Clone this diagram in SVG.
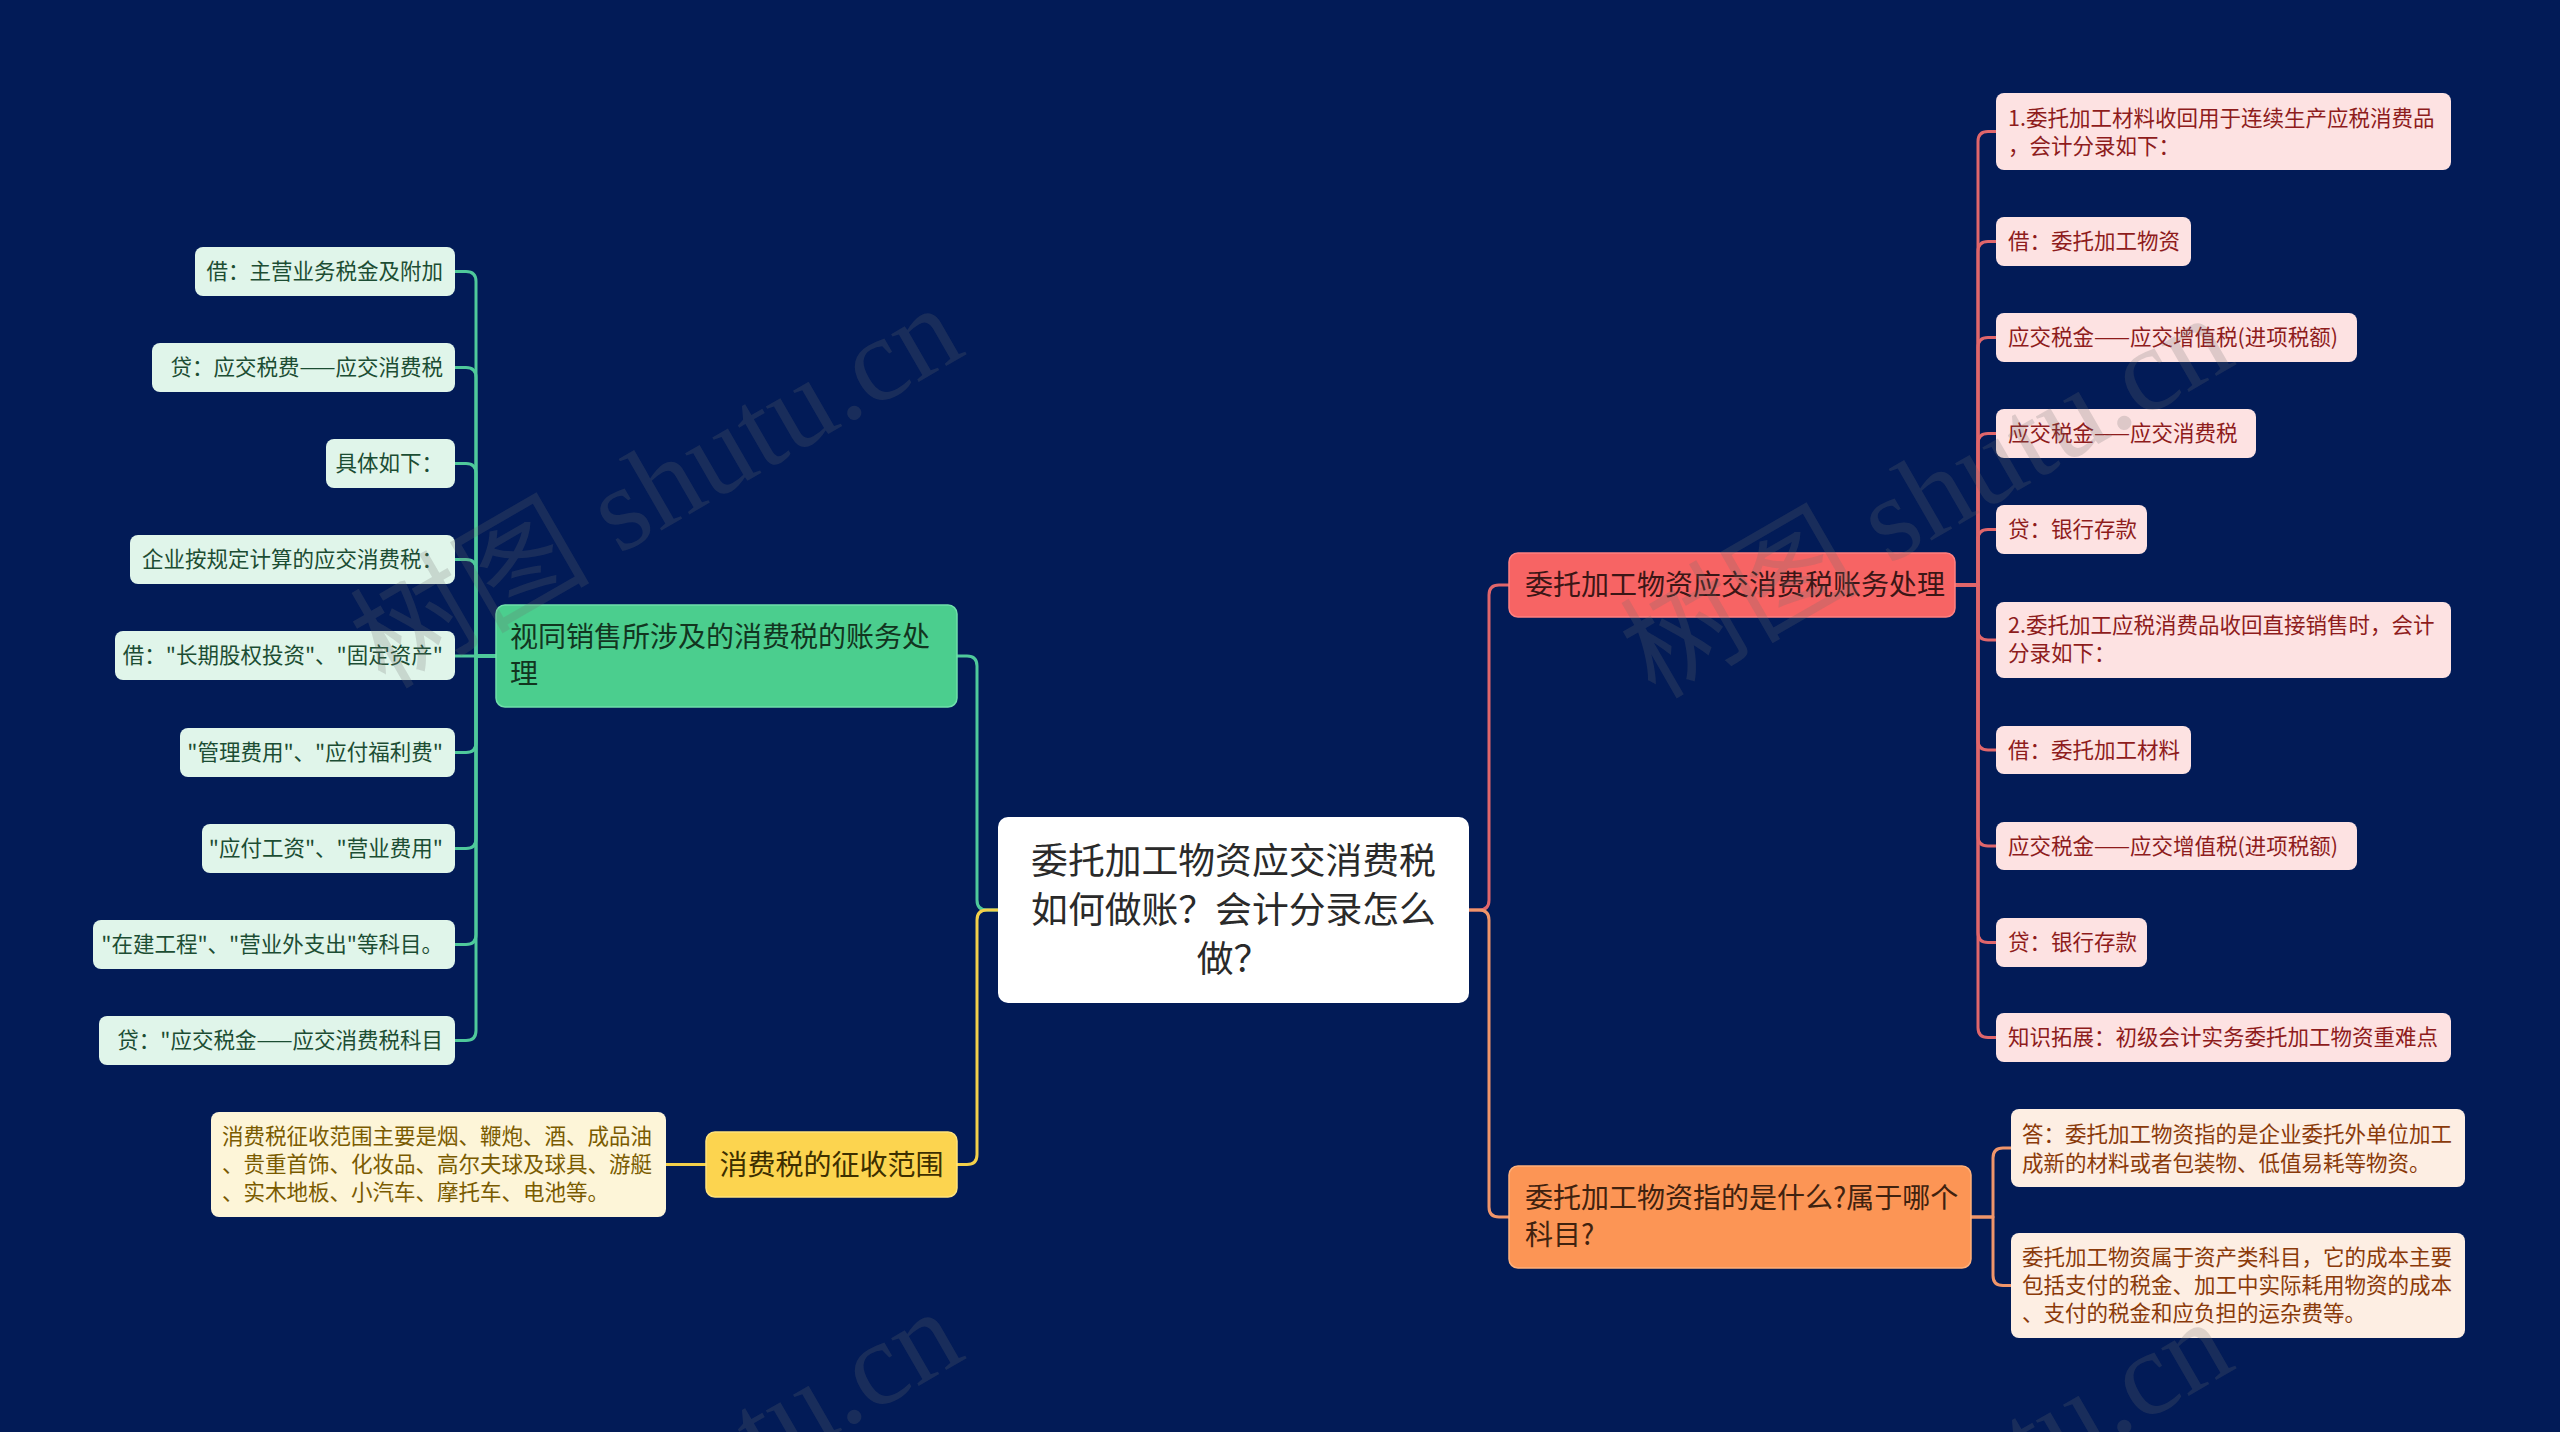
<svg xmlns="http://www.w3.org/2000/svg" width="2560" height="1432" viewBox="0 0 2560 1432">
<defs>
<style>
text{font-family:"Noto Sans CJK SC","Noto Sans",sans-serif;}
.c{fill:none;stroke-width:3;stroke-linecap:round;stroke-linejoin:round;}
.cg{stroke:#4fc99b;} .cy{stroke:#f3d04a;} .cr{stroke:#e0666b;} .co{stroke:#f0956a;}
.gl{fill:#e0f5ea;} .glt{fill:#1c4d33;font-size:21.5px;}
.rl{fill:#fde2e2;} .rlt{fill:#8e1c1c;font-size:21.5px;}
.yl{fill:#fdf5d8;} .ylt{fill:#7a5b00;font-size:21.5px;}
.ol{fill:#fdeee3;} .olt{fill:#8a3a0a;font-size:21.5px;}
.wm{font-family:"Liberation Serif","Noto Sans CJK SC",serif;font-size:120px;fill:#6e6e6e;fill-opacity:0.22;}
</style>
</defs>
<rect width="2560" height="1432" fill="#021b57"/>

<g id="connectors">
<path class="c cg" d="M998,910 L987,910 Q977,910 977,900 L977,666 Q977,656 967,656 L957,656"/>
<path class="c cy" d="M998,910 L987,910 Q977,910 977,920 L977,1154.5 Q977,1164.5 967,1164.5 L957,1164.5"/>
<path class="c cr" d="M1469,910 L1479,910 Q1489,910 1489,900 L1489,595 Q1489,585 1499,585 L1509,585"/>
<path class="c co" d="M1469,910 L1479,910 Q1489,910 1489,920 L1489,1207 Q1489,1217 1499,1217 L1509,1217"/>
<path class="c cg" d="M496,656 L476,656 L476,281.5 Q476,271.5 466,271.5 L455,271.5"/>
<path class="c cg" d="M496,656 L476,656 L476,377.5 Q476,367.5 466,367.5 L455,367.5"/>
<path class="c cg" d="M496,656 L476,656 L476,473.5 Q476,463.5 466,463.5 L455,463.5"/>
<path class="c cg" d="M496,656 L476,656 L476,569.5 Q476,559.5 466,559.5 L455,559.5"/>
<path class="c cg" d="M496,656 L455,656"/>
<path class="c cg" d="M496,656 L476,656 L476,742.5 Q476,752.5 466,752.5 L455,752.5"/>
<path class="c cg" d="M496,656 L476,656 L476,838.5 Q476,848.5 466,848.5 L455,848.5"/>
<path class="c cg" d="M496,656 L476,656 L476,934.5 Q476,944.5 466,944.5 L455,944.5"/>
<path class="c cg" d="M496,656 L476,656 L476,1030.5 Q476,1040.5 466,1040.5 L455,1040.5"/>
<path class="c cy" d="M706,1164.5 L666,1164.5"/>
<path class="c cr" d="M1955,585 L1978,585 L1978,141.5 Q1978,131.5 1988,131.5 L1996,131.5"/>
<path class="c cr" d="M1955,585 L1978,585 L1978,251.5 Q1978,241.5 1988,241.5 L1996,241.5"/>
<path class="c cr" d="M1955,585 L1978,585 L1978,347.5 Q1978,337.5 1988,337.5 L1996,337.5"/>
<path class="c cr" d="M1955,585 L1978,585 L1978,443.5 Q1978,433.5 1988,433.5 L1996,433.5"/>
<path class="c cr" d="M1955,585 L1978,585 L1978,539.5 Q1978,529.5 1988,529.5 L1996,529.5"/>
<path class="c cr" d="M1955,585 L1978,585 L1978,630 Q1978,640 1988,640 L1996,640"/>
<path class="c cr" d="M1955,585 L1978,585 L1978,740 Q1978,750 1988,750 L1996,750"/>
<path class="c cr" d="M1955,585 L1978,585 L1978,836 Q1978,846 1988,846 L1996,846"/>
<path class="c cr" d="M1955,585 L1978,585 L1978,932.5 Q1978,942.5 1988,942.5 L1996,942.5"/>
<path class="c cr" d="M1955,585 L1978,585 L1978,1027.5 Q1978,1037.5 1988,1037.5 L1996,1037.5"/>
<path class="c co" d="M1971,1217 L1993,1217 L1993,1158 Q1993,1148 2003,1148 L2011,1148"/>
<path class="c co" d="M1971,1217 L1993,1217 L1993,1275.5 Q1993,1285.5 2003,1285.5 L2011,1285.5"/>
</g>

<g id="root">
<rect x="998" y="817" width="471" height="186" rx="10" fill="#ffffff"/>
<text x="1233.5" y="874" text-anchor="middle" font-size="36.8" fill="#2a2a2a">委托加工物资应交消费税</text>
<text x="1233.5" y="923" text-anchor="middle" font-size="36.8" fill="#2a2a2a">如何做账？会计分录怎么</text>
<text x="1233.5" y="972" text-anchor="middle" font-size="36.8" fill="#2a2a2a">做？</text>
</g>

<g id="branch-green">
<rect x="496" y="605" width="461" height="102" rx="9" fill="#4bce8e" stroke="#6fe0ab" stroke-width="1.5"/>
<text x="510" y="647" font-size="28" fill="#12351f">视同销售所涉及的消费税的账务处</text>
<text x="510" y="684" font-size="28" fill="#12351f">理</text>
</g>
<g id="g1"><rect class="gl" x="195" y="247" width="260" height="49" rx="8"/><text class="glt" x="443" y="279" text-anchor="end">借：主营业务税金及附加</text></g>
<g id="g2"><rect class="gl" x="152" y="343" width="303" height="49" rx="8"/><text class="glt" x="443" y="375" text-anchor="end">贷：应交税费——应交消费税</text></g>
<g id="g3"><rect class="gl" x="326" y="439" width="129" height="49" rx="8"/><text class="glt" x="443" y="471" text-anchor="end">具体如下：</text></g>
<g id="g4"><rect class="gl" x="130" y="535" width="325" height="49" rx="8"/><text class="glt" x="443" y="567" text-anchor="end">企业按规定计算的应交消费税：</text></g>
<g id="g5"><rect class="gl" x="115" y="631" width="340" height="49" rx="8"/><text class="glt" x="443" y="663" text-anchor="end">借："长期股权投资"、"固定资产"</text></g>
<g id="g6"><rect class="gl" x="180" y="728" width="275" height="49" rx="8"/><text class="glt" x="443" y="760" text-anchor="end">"管理费用"、"应付福利费"</text></g>
<g id="g7"><rect class="gl" x="202" y="824" width="253" height="49" rx="8"/><text class="glt" x="443" y="856" text-anchor="end">"应付工资"、"营业费用"</text></g>
<g id="g8"><rect class="gl" x="93" y="920" width="362" height="49" rx="8"/><text class="glt" x="443" y="952" text-anchor="end">"在建工程"、"营业外支出"等科目。</text></g>
<g id="g9"><rect class="gl" x="99" y="1016" width="356" height="49" rx="8"/><text class="glt" x="443" y="1048" text-anchor="end">贷："应交税金——应交消费税科目</text></g>

<g id="branch-yellow">
<rect x="706" y="1132" width="251" height="65" rx="9" fill="#fcd44f" stroke="#ffe27a" stroke-width="1.5"/>
<text x="831.5" y="1174.5" text-anchor="middle" font-size="28" fill="#3d2f00">消费税的征收范围</text>
</g>
<g id="y1"><rect class="yl" x="211" y="1112" width="455" height="105" rx="8"/>
<text class="ylt" x="222" y="1144">消费税征收范围主要是烟、鞭炮、酒、成品油</text>
<text class="ylt" x="222" y="1172">、贵重首饰、化妆品、高尔夫球及球具、游艇</text>
<text class="ylt" x="222" y="1200">、实木地板、小汽车、摩托车、电池等。</text></g>

<g id="branch-red">
<rect x="1509" y="553" width="446" height="64" rx="9" fill="#f76464" stroke="#ff8080" stroke-width="1.5"/>
<text x="1525" y="595" font-size="28" fill="#3b1616">委托加工物资应交消费税账务处理</text>
</g>
<g id="r1"><rect class="rl" x="1996" y="93" width="455" height="77" rx="8"/>
<text class="rlt" x="2008" y="126">1.委托加工材料收回用于连续生产应税消费品</text>
<text class="rlt" x="2008" y="154">，会计分录如下：</text></g>
<g id="r2"><rect class="rl" x="1996" y="217" width="195" height="49" rx="8"/><text class="rlt" x="2008" y="249">借：委托加工物资</text></g>
<g id="r3"><rect class="rl" x="1996" y="313" width="361" height="49" rx="8"/><text class="rlt" x="2008" y="345">应交税金——应交增值税(进项税额)</text></g>
<g id="r4"><rect class="rl" x="1996" y="409" width="260" height="49" rx="8"/><text class="rlt" x="2008" y="441">应交税金——应交消费税</text></g>
<g id="r5"><rect class="rl" x="1996" y="505" width="151" height="49" rx="8"/><text class="rlt" x="2008" y="537">贷：银行存款</text></g>
<g id="r6"><rect class="rl" x="1996" y="602" width="455" height="76" rx="8"/>
<text class="rlt" x="2008" y="633">2.委托加工应税消费品收回直接销售时，会计</text>
<text class="rlt" x="2008" y="661">分录如下：</text></g>
<g id="r7"><rect class="rl" x="1996" y="726" width="195" height="48" rx="8"/><text class="rlt" x="2008" y="757.5">借：委托加工材料</text></g>
<g id="r8"><rect class="rl" x="1996" y="822" width="361" height="48" rx="8"/><text class="rlt" x="2008" y="853.5">应交税金——应交增值税(进项税额)</text></g>
<g id="r9"><rect class="rl" x="1996" y="918" width="151" height="49" rx="8"/><text class="rlt" x="2008" y="950">贷：银行存款</text></g>
<g id="r10"><rect class="rl" x="1996" y="1013" width="455" height="49" rx="8"/><text class="rlt" x="2008" y="1045">知识拓展：初级会计实务委托加工物资重难点</text></g>

<g id="branch-orange">
<rect x="1509" y="1166" width="462" height="102" rx="9" fill="#fc9555" stroke="#ffb07a" stroke-width="1.5"/>
<text x="1525" y="1208" font-size="28" fill="#40220f">委托加工物资指的是什么?属于哪个</text>
<text x="1525" y="1245" font-size="28" fill="#40220f">科目?</text>
</g>
<g id="o1"><rect class="ol" x="2011" y="1109" width="454" height="78" rx="8"/>
<text class="olt" x="2022" y="1142">答：委托加工物资指的是企业委托外单位加工</text>
<text class="olt" x="2022" y="1171">成新的材料或者包装物、低值易耗等物资。</text></g>
<g id="o2"><rect class="ol" x="2011" y="1233" width="454" height="105" rx="8"/>
<text class="olt" x="2022" y="1265">委托加工物资属于资产类科目，它的成本主要</text>
<text class="olt" x="2022" y="1293">包括支付的税金、加工中实际耗用物资的成本</text>
<text class="olt" x="2022" y="1321">、支付的税金和应负担的运杂费等。</text></g>

<g id="watermarks">
<text class="wm" transform="translate(385,690) rotate(-30)">树图 shutu.cn</text>
<text class="wm" transform="translate(1655,700) rotate(-30)">树图 shutu.cn</text>
<text class="wm" transform="translate(385,1694) rotate(-30)">树图 shutu.cn</text>
<text class="wm" transform="translate(1655,1704) rotate(-30)">树图 shutu.cn</text>
</g>
</svg>
